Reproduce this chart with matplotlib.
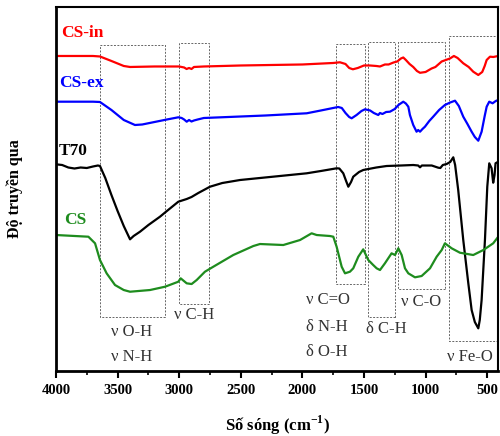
import matplotlib
matplotlib.use("Agg")
import matplotlib.pyplot as plt
from matplotlib.patches import Rectangle
from matplotlib.ticker import MultipleLocator

plt.rcParams['font.family'] = ['Liberation Serif', 'DejaVu Serif']
plt.rcParams['mathtext.fontset'] = 'custom'
plt.rcParams['mathtext.rm'] = 'Liberation Serif'
plt.rcParams['mathtext.bf'] = 'Liberation Serif:bold'

# ---- du lieu (so song cm-1, do truyen qua a.u.) ----
wn_csin = [4000, 3700, 3643, 3550, 3450, 3399, 3200, 3000, 2960, 2940, 2920, 2900, 2880, 2800, 2500,
           2000, 1750, 1711, 1695, 1650, 1620, 1590, 1550, 1500, 1451, 1400, 1370, 1330, 1300, 1260,
           1230, 1200, 1181, 1160, 1130, 1100, 1070, 1045, 1000, 951, 920, 869, 802, 770, 740, 694,
           650, 613, 572, 540, 520, 504, 477, 450, 410]
t_csin = [315, 315, 314.5, 310, 305, 304, 304.5, 304.5, 303.5, 302, 303, 302, 304, 304.5, 305.5,
          306.5, 308, 308.5, 308.7, 307, 303, 301.7, 303, 305.5, 305.5, 305, 304.5, 306.5, 306.5, 308.5,
          309.5, 312.5, 313.5, 311, 307, 304, 300, 298.2, 299, 302.5, 304, 309.5, 312.5, 315, 313, 307.7,
          304, 299.3, 296, 299, 305, 311, 314.3, 314, 315]

wn_csex = [4000, 3700, 3643, 3550, 3450, 3359, 3300, 3200, 3100, 3007, 2980, 2960, 2939, 2920, 2900,
           2880, 2850, 2800, 2600, 2300, 1965, 1850, 1750, 1709, 1680, 1650, 1620, 1600, 1560, 1520,
           1492, 1450, 1420, 1384, 1370, 1350, 1320, 1289, 1250, 1220, 1181, 1160, 1140, 1127, 1100,
           1073, 1060, 1045, 1025, 1005, 970, 938, 890, 843, 800, 761, 730, 694, 660, 626, 600, 572,
           545, 520, 504, 483, 456, 430, 410]
t_csex = [269.3, 269.3, 269, 261, 251, 246, 246.5, 249, 251.5, 253.7, 253, 251.5, 249.3, 251, 249.5,
          250.5, 251.5, 253, 254, 255.5, 257.7, 260.5, 263, 264, 263, 258, 254, 252.7, 256, 260,
          261.7, 260.5, 258, 256, 258, 257, 259, 259.3, 262, 266, 269.3, 267.5, 264.3, 256, 246,
          239.3, 241, 239.3, 242, 244.3, 250, 254.3, 261, 266, 268.5, 270.3, 265, 254.3, 247, 239.3, 234, 230.3,
          239.3, 255, 264.3, 269.3, 267.7, 270, 271]

wn_t70 = [4000, 3950, 3900, 3850, 3800, 3750, 3700, 3660, 3643, 3600, 3550, 3500, 3450, 3399, 3370,
          3318, 3250, 3156, 3100, 3007, 2939, 2900, 2845, 2750, 2650, 2506, 2239, 1965, 1850, 1722,
          1700, 1668, 1645, 1627, 1605, 1587, 1540, 1506, 1400, 1316, 1200, 1100, 1060, 1045, 1030,
          950, 897, 880, 860, 829, 800, 775, 760, 735, 694, 653, 626, 600, 572, 560, 545, 518, 499,
          483, 464, 451, 440, 432, 410]
t_t70 = [206.7, 206, 203.5, 202.5, 203.5, 203, 204.5, 205.5, 205, 193, 176, 160, 145, 131.7, 135,
         139.3, 146, 154.3, 160, 169.3, 172, 174, 178, 184.3, 188, 191, 194.3, 197.7, 200, 202.7,
         202.5, 197.7, 190, 184.3, 189, 194.3, 199, 201, 203.5, 205, 205.5, 206, 205.5, 203.7, 205.5,
         205.5, 203.3, 203, 206, 207, 209, 213.7, 206, 181, 131, 87.7, 61, 49, 42.7, 51, 71, 131, 184.3,
         207.7, 202.7, 188.3, 196, 207.7, 209.3]

wn_cs = [4000, 3737, 3683, 3643, 3589, 3521, 3450, 3399, 3237, 3115, 3007, 2988, 2939, 2899, 2858,
         2791, 2723, 2561, 2398, 2344, 2155, 2019, 1925, 1884, 1776, 1749, 1722, 1681, 1654, 1614,
         1587, 1546, 1506, 1465, 1425, 1397, 1370, 1330, 1303, 1276, 1248, 1221, 1194, 1167, 1140,
         1086, 1032, 964, 910, 869, 843, 788, 721, 613, 531, 451, 410]
t_cs = [136, 134.3, 127.7, 111, 97.7, 86, 81, 79.3, 81, 84.3, 89.3, 92.7, 87.7, 87, 91,
        99.3, 104.3, 116, 125, 127, 126, 131, 137.7, 136, 135, 134.3, 124.3, 104.3, 97.7, 99.3,
        102.7, 114.3, 121.7, 111, 106, 102.7, 101, 107.7, 112.7, 117.7, 116, 122.7, 116, 102.7, 97.7,
        93.7, 95, 102.7, 114.3, 121, 127.7, 122.7, 118.3, 116, 121, 127.7, 134.3]

# vung dao dong (so song trai, phai, y duoi, y tren)
band_left = [3643, 3002, 1730, 1465, 1227, 808]
band_right = [3115, 2756, 1492, 1248, 843, 412]
band_bottom = [54.3, 67, 86.7, 54.3, 81.7, 30]
band_top = [326, 328.3, 327, 328.7, 329.3, 335]

fig = plt.figure(figsize=(5.0, 4.36), dpi=100)
ax = fig.add_axes([0.112, 0.149, 0.884, 0.835])

ax.plot(wn_csin, t_csin, color='#ff0000', lw=1.6)
ax.plot(wn_csex, t_csex, color='#0000ff', lw=1.6)
ax.plot(wn_t70, t_t70, color='black', lw=1.6)
ax.plot(wn_cs, t_cs, color='#1e8c1e', lw=1.6)

for i in range(len(band_left)):
    r = Rectangle((band_right[i], band_bottom[i]), band_left[i] - band_right[i],
                  band_top[i] - band_bottom[i], fill=False, ls=(0, (2, 1.5)),
                  lw=0.7, edgecolor='#666666', zorder=1)
    ax.add_patch(r)

# nhan cac duong
ax.text(3957, 338, 'CS-in', color='#ff0000', fontsize=12.5, fontweight='bold', va='center')
ax.text(3978, 288, 'CS-ex', color='#0000ff', fontsize=12.5, fontweight='bold', va='center')
ax.text(3975, 220, 'T70', color='black', fontsize=12.5, fontweight='bold', va='center')
ax.text(3935, 151, 'CS', color='#1e8c1e', fontsize=12.5, fontweight='bold', va='center')

# nhan dao dong
c_ann = '#333333'
fs_ann = 12
ax.text(3383, 39.3, 'ν O-H', color=c_ann, fontsize=fs_ann, ha='center', va='center')
ax.text(3383, 14.3, 'ν N-H', color=c_ann, fontsize=fs_ann, ha='center', va='center')
ax.text(2880, 56, 'ν C-H', color=c_ann, fontsize=fs_ann, ha='center', va='center')
ax.text(1968, 71, 'ν C=O', color=c_ann, fontsize=fs_ann, ha='left', va='center')
ax.text(1968, 44.3, 'δ N-H', color=c_ann, fontsize=fs_ann, ha='left', va='center')
ax.text(1968, 19.3, 'δ O-H', color=c_ann, fontsize=fs_ann, ha='left', va='center')
ax.text(1316, 41.7, 'δ C-H', color=c_ann, fontsize=fs_ann, ha='center', va='center')
ax.text(1037, 69.3, 'ν C-O', color=c_ann, fontsize=fs_ann, ha='center', va='center')
ax.text(640, 14.3, 'ν Fe-O', color=c_ann, fontsize=fs_ann, ha='center', va='center')

ax.set_xlim(4000, 412)
ax.set_ylim(0, 364)
ax.xaxis.set_major_locator(MultipleLocator(500))
ax.xaxis.set_minor_locator(MultipleLocator(250))
ax.set_yticks([])
ax.tick_params(axis='x', which='major', direction='out', length=5, width=1.5, labelsize=10.5, pad=4)
ax.tick_params(axis='x', which='minor', direction='out', length=3, width=1.2)
for lab in ax.get_xticklabels():
    lab.set_fontweight('bold')
for s in ['left', 'bottom']:
    ax.spines[s].set_linewidth(2)
for s in ['top', 'right']:
    ax.spines[s].set_linewidth(1.5)

ax.set_xlabel('Số sóng (cm$^{\\mathbf{-1}}$)', fontsize=12, fontweight='bold', labelpad=12)
ax.set_ylabel('Độ truyền qua', fontsize=11.5, fontweight='bold', labelpad=24)

plt.savefig('out.png', dpi=100)
